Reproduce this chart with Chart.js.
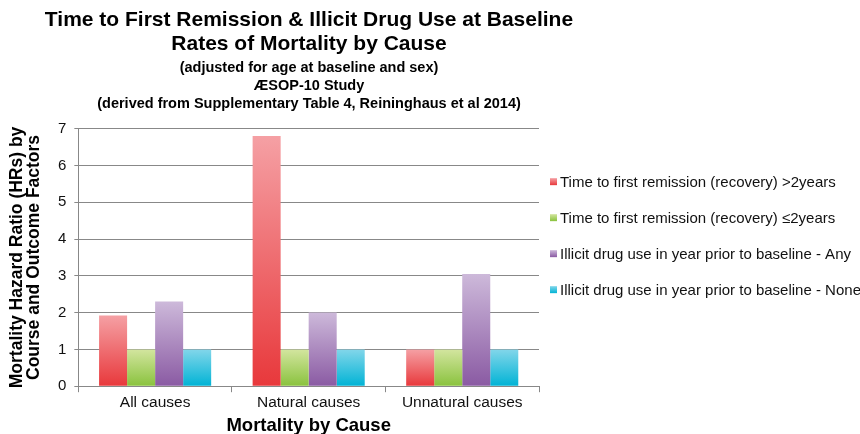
<!DOCTYPE html>
<html>
<head>
<meta charset="utf-8">
<script src="https://cdn.jsdelivr.net/npm/chart.js@4/dist/chart.umd.min.js"></script>
<style>
  html, body { margin: 0; padding: 0; background: #fff; }
  #wrap { width: 860px; height: 434px; }
</style>
</head>
<body>
<div id="wrap"><canvas id="chart"></canvas></div>
<script>
const categories = ["All causes", "Natural causes", "Unnatural causes"];
const seriesNames = [
  "Time to first remission (recovery) >2years",
  "Time to first remission (recovery) \u22642years",
  "Illicit drug use in year prior to baseline - Any",
  "Illicit drug use in year prior to baseline - None"
];
const remissionOver2 = [1.92, 6.8, 1.0];
const remissionUnder2 = [1.0, 1.0, 1.0];
const drugAny = [2.3, 2.0, 3.05];
const drugNone = [1.0, 1.0, 1.0];
const yTicks = [0, 1, 2, 3, 4, 5, 6, 7];

// light (top) -> dark (bottom) per series
const shades = [
  ["#f5a0a4", "#e8383b"],
  ["#d3e59f", "#89c23d"],
  ["#cdb9da", "#8a5aa3"],
  ["#82d6ea", "#00b3d5"]
];

function barFill(i) {
  return ctx => {
    const chart = ctx.chart;
    const y = chart.scales.y;
    if (!chart.chartArea || !y || ctx.parsed == null) return shades[i][1];
    const top = y.getPixelForValue(ctx.parsed.y);
    const bottom = y.getPixelForValue(0);
    if (!isFinite(top) || top === bottom) return shades[i][1];
    const g = chart.ctx.createLinearGradient(0, top, 0, bottom);
    g.addColorStop(0, shades[i][0]);
    g.addColorStop(1, shades[i][1]);
    return g;
  };
}

// built-in side legend is capped in width, so draw it beside the plot
const sideLegend = {
  id: "sideLegend",
  afterDraw(chart) {
    const c = chart.ctx;
    const area = chart.chartArea;
    const x = area.right + 11;
    c.save();
    c.font = "15px 'Liberation Sans'";
    c.textBaseline = "middle";
    chart.data.datasets.forEach((ds, i) => {
      const y = area.top + 53 + i * 36;
      const g = c.createLinearGradient(0, y - 3.5, 0, y + 3.5);
      g.addColorStop(0, shades[i][0]);
      g.addColorStop(1, shades[i][1]);
      c.fillStyle = g;
      c.fillRect(x, y - 3.5, 7, 7);
      c.fillStyle = "#111";
      c.fillText(ds.label, x + 10, y + 1);
    });
    c.restore();
  }
};

const values = [remissionOver2, remissionUnder2, drugAny, drugNone];

new Chart(document.getElementById("chart"), {
  type: "bar",
  data: {
    labels: categories,
    datasets: values.map((v, i) => ({
      label: seriesNames[i],
      data: v,
      backgroundColor: barFill(i),
      borderWidth: 0,
      categoryPercentage: 0.73,
      barPercentage: 1.0
    }))
  },
  plugins: [sideLegend],
  options: {
    responsive: true,
    maintainAspectRatio: false,
    animation: false,
    layout: { padding: { left: 8, right: 250, top: 4, bottom: 0 } },
    plugins: {
      title: {
        display: true,
        text: ["Time to First Remission & Illicit Drug Use at Baseline", "Rates of Mortality by Cause"],
        color: "#000",
        font: { family: "Liberation Sans", size: 21, weight: "bold", lineHeight: 1.16 },
        padding: { top: 4, bottom: 0 }
      },
      subtitle: {
        display: true,
        text: ["(adjusted for age at baseline and sex)", "\u00c6SOP-10 Study", "(derived from Supplementary Table 4, Reininghaus et al 2014)"],
        color: "#000",
        font: { family: "Liberation Sans", size: 14.5, weight: "bold", lineHeight: 1.24 },
        padding: { top: 2, bottom: 16 }
      },
      legend: { display: false },
      tooltip: { enabled: false }
    },
    scales: {
      x: {
        grid: { drawOnChartArea: false, offset: true, color: "#888", tickLength: 6 },
        border: { color: "#888" },
        ticks: { color: "#111", font: { family: "Liberation Sans", size: 15.5 }, padding: 1 },
        title: {
          display: true,
          text: "Mortality by Cause",
          color: "#000",
          font: { family: "Liberation Sans", size: 18.5, weight: "bold" },
          padding: { top: 2, bottom: -3 }
        }
      },
      y: {
        min: 0,
        max: 7,
        afterBuildTicks: axis => { axis.ticks = yTicks.map(v => ({ value: v })); },
        grid: { color: "#888", tickLength: 4 },
        border: { color: "#888" },
        ticks: { color: "#111", font: { family: "Liberation Sans", size: 15 }, padding: 8 },
        title: {
          display: true,
          text: ["Mortality Hazard Ratio (HRs) by", "Course and Outcome Factors"],
          color: "#000",
          font: { family: "Liberation Sans", size: 17.5, weight: "bold", lineHeight: 1.0 },
          padding: { top: 0, bottom: 7 }
        }
      },
      // empty right-hand spacer so the titles centre over the plot like the original
      spacer: {
        type: "linear",
        position: "right",
        display: true,
        grid: { display: false },
        border: { display: false },
        ticks: { display: false },
        afterFit: scale => { scale.width = 71; }
      }
    }
  }
});
</script>
</body>
</html>
